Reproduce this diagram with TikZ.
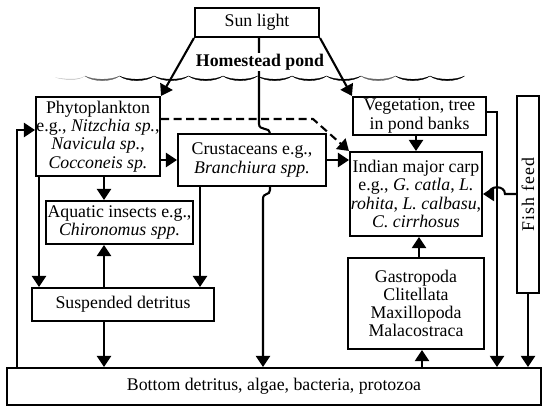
\documentclass[tikz,border=0pt]{standalone}
\usepackage{fontspec}
\setmainfont{Liberation Serif}
\usetikzlibrary{arrows.meta}
\begin{document}
\begin{tikzpicture}[x=1pt,y=-1pt,
  box/.style={draw, line width=2.1pt, fill=white, inner sep=0pt, align=center, font=\fontsize{17.8}{18.2}\selectfont},
  arr/.style={line width=2.1pt, -{Triangle[width=14pt,length=11pt]}},
  ln/.style={line width=2.1pt},
  dashline/.style={line width=2.1pt, dash pattern=on 8pt off 4.5pt, -{Triangle[width=14pt,length=11pt]}},
  wave/.style={fill=black, draw=black, line width=0.3pt},
  txt/.style={inner sep=1pt, font=\fontsize{17.8}{18.2}\selectfont}]
\useasboundingbox (0,0) rectangle (550,412);

% waves
\fill[gray!55] (55,77.5) .. controls (64,80) and (78,81.5) .. (85,76) .. controls (78,80.5) and (64,79) .. (55,77.5);
\foreach \i in {0,...,10}{
  \pgfmathsetmacro\c{85+34.5*\i}
  \pgfmathsetmacro\cc{\c+8}
  \pgfmathsetmacro\cd{\c+26.5}
  \pgfmathsetmacro\ce{\c+34.5}
  \ifnum\i=0 \def\wc{black!60}\else\ifnum\i=8 \def\wc{black!60}\else\def\wc{black}\fi\fi
  \draw[wave, fill=\wc, draw=\wc] (\c,76) .. controls (\cc,80.3) and (\cd,80.3) .. (\ce,76) .. controls (\cd,82.2) and (\cc,82.2) .. (\c,76);
}

% boxes
\node[box, minimum width=124pt, minimum height=29pt] (sun) at (257,22.5) {Sun light};
\node[box, minimum width=124pt, minimum height=79pt] (phyto) at (98,136.5)
  {Phytoplankton\\ e.g., \textit{Nitzchia sp.},\\ \textit{Navicula sp.},\\ \textit{Cocconeis sp.}};
\node[box, minimum width=148pt, minimum height=52pt] (crust) at (252,160)
  {Crustaceans e.g.,\\ \textit{Branchiura spp.}};
\node[box, minimum width=147pt, minimum height=43pt] (aquatic) at (119.5,222.5)
  {Aquatic insects e.g.,\\ \textit{Chironomus spp.}};
\node[box, minimum width=182pt, minimum height=33pt] (susp) at (123,304.5) {Suspended detritus};
\node[box, minimum width=534pt, minimum height=37pt] (bottom) at (274,386.5)
  {Bottom detritus, algae, bacteria, protozoa};
\node[box, minimum width=133pt, minimum height=38pt] (veg) at (419.5,116)
  {Vegetation, tree\\ in pond banks};
\node[box, minimum width=132pt, minimum height=84pt] (carp) at (416,194)
  {Indian major carp\\ e.g., \textit{G. catla}, \textit{L.}\\ \textit{rohita}, \textit{L. calbasu},\\ \textit{C. cirrhosus}};
\node[box, minimum width=136pt, minimum height=91pt] (gastro) at (416,303.5)
  {Gastropoda\\ Clitellata\\ Maxillopoda\\ Malacostraca};
\node[box, minimum width=22pt, minimum height=197pt] (fish) at (528,194.5) {};
\node[txt, rotate=90, font=\fontsize{17.8}{18.2}\selectfont\addfontfeature{LetterSpace=6}] (fishtxt) at (fish) {Fish feed};

% connectors
\draw[arr] (sun.south west) -- (phyto.north east);
\draw[arr] (sun.south east) -- (veg.north west);

\coordinate (sv) at ([xshift=2pt]sun.south);
\coordinate (cn) at ([xshift=18pt]crust.north);
\coordinate (cs) at ([xshift=18pt]crust.south);
\draw[ln] (sv) -- (259,124) .. controls (259,131) and (270,127) .. (cn);
\draw[arr] (cs) -- (270,190) .. controls (270,196) and (263,192) .. (263,199) -- (263,0 |- bottom.north);

\draw[arr] (phyto.east |- crust.west) -- (crust.west);
\draw[arr] (crust.east) -- (carp.west |- crust.east);
\draw[arr] (104,0 |- phyto.south) -- (104,0 |- aquatic.north);
\draw[arr] (104,0 |- susp.north) -- (104,0 |- aquatic.south);
\draw[arr] (104,0 |- susp.south) -- (104,0 |- bottom.north);
\draw[arr] (39,0 |- phyto.south) -- (39,0 |- susp.north);
\draw[arr] (200,0 |- crust.south) -- (200,0 |- susp.north);
\draw[arr] (17,0 |- bottom.north) |- (phyto.west |- 0,130);
\draw[dashline] (phyto.east |- 0,119) -- (313,119) -- (carp.north west);
\draw[arr] (carp.north |- veg.south) -- (carp.north);
\draw[arr] (veg.east |- 0,112) -| (497,0 |- bottom.north);
\draw[arr] (fish.south) -- (fish.south |- bottom.north);
\draw[arr] (fish.west |- carp.east) -- (505,194) .. controls (505,185) and (489,185) .. (489,194) -- (carp.east);
\draw[arr] (422,0 |- bottom.north) -- (422,0 |- gastro.south);
\draw[arr] (419,0 |- gastro.north) -- (419,0 |- carp.south);

\node[txt, fill=white, font=\bfseries\fontsize{17.8}{18.2}\selectfont] (pond) at (260,62) {Homestead pond};
\end{tikzpicture}
\end{document}
